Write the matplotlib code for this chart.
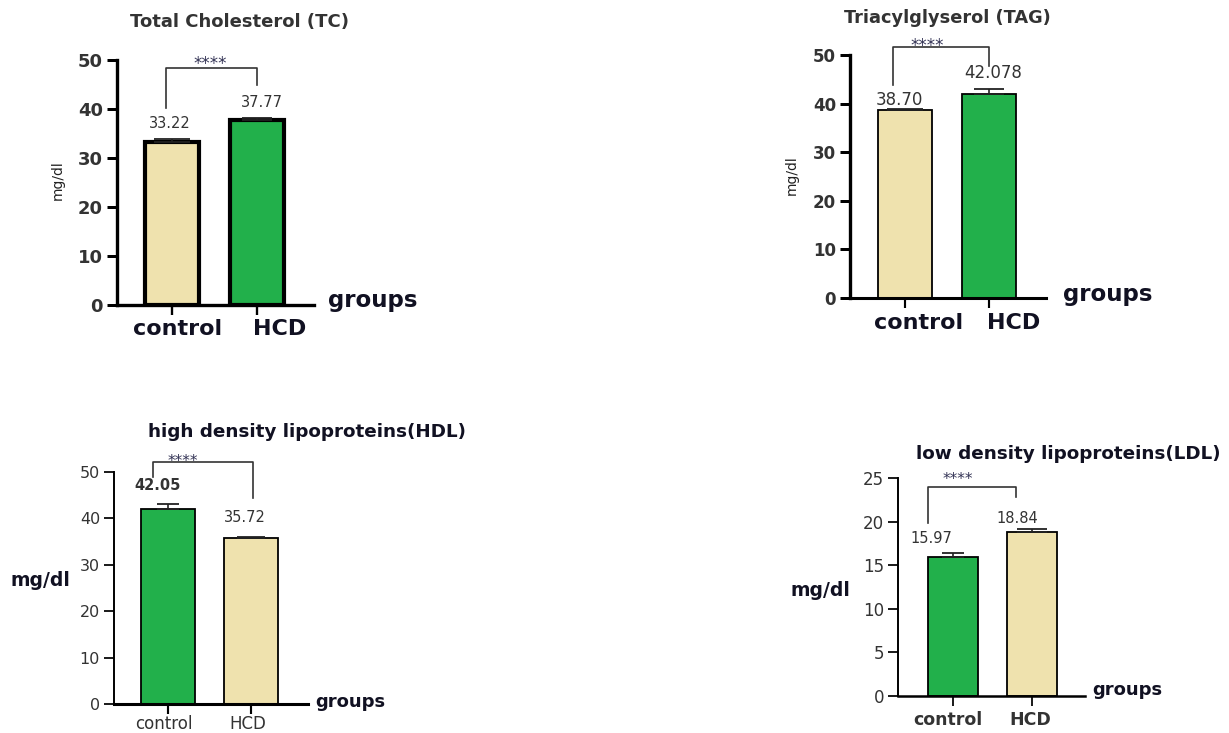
import matplotlib
matplotlib.use("Agg")
import matplotlib.pyplot as plt
import matplotlib.transforms as mtransforms

# ---- data ----
groups = ["control", "HCD"]

tc_values = [33.22, 37.77]
tc_err = [0.7, 0.45]
tc_labels = ["33.22", "37.77"]

tag_values = [38.70, 42.078]
tag_err = [0.2, 1.0]
tag_labels = ["38.70", "42.078"]

hdl_values = [42.05, 35.72]
hdl_err = [1.0, 0.3]
hdl_labels = ["42.05", "35.72"]

ldl_values = [15.97, 18.84]
ldl_err = [0.45, 0.3]
ldl_labels = ["15.97", "18.84"]

beige = "#EFE2AE"
green = "#22B04B"

W, H = 1229, 733
fig = plt.figure(figsize=(W / 100, H / 100), dpi=100)


def fx(x):
    return x / W


def fy(y):
    return 1 - y / H


def panel(box, ticks_px, ymax, yticks, values, err, labels, colors,
          edge_lw, spine_lw, tick_font, xlab_font, xlab_off, xpad, lab_pos, lab_font,
          bracket, stars, caps, tick_color="#333333", xlab_color="#111122"):
    l, t, r, b = box
    ax = fig.add_axes([fx(l), fy(b), fx(r - l), (b - t) / H])
    unit = ticks_px[1] - ticks_px[0]
    ax.set_xlim(-(ticks_px[0] - l) / unit, 1 + (r - ticks_px[1]) / unit)
    ax.set_ylim(0, ymax)
    ax.bar([0, 1], values, width=0.64, color=colors, edgecolor="black",
           linewidth=edge_lw, zorder=2)
    # only the upper half of the error bar (GraphPad style)
    for i in range(2):
        ax.errorbar([i], [values[i]], yerr=[[0], [err[i]]], fmt="none", ecolor="#222222",
                    elinewidth=1.2, capsize=caps[i], capthick=1.3, zorder=3)
    for sp in ["top", "right"]:
        ax.spines[sp].set_visible(False)
    ax.spines["left"].set_linewidth(spine_lw[0])
    ax.spines["bottom"].set_linewidth(spine_lw[1])
    ax.set_yticks(yticks)
    ax.tick_params(axis="y", length=7, width=spine_lw[0] * 0.9, pad=3)
    ax.tick_params(axis="x", length=7, width=spine_lw[1] * 0.7, pad=xpad)
    ax.set_yticklabels([str(v) for v in yticks], color=tick_color, **tick_font)
    ax.set_xticks([0, 1])
    ax.set_xticklabels(groups, color=xlab_color, **xlab_font)
    for lbl, off in zip(ax.get_xticklabels(), xlab_off):
        lbl.set_transform(lbl.get_transform() +
                          mtransforms.ScaledTranslation(off / 100, 0, fig.dpi_scale_trans))
    # value labels above bars
    for (x, y), s, f in zip(lab_pos, labels, lab_font):
        ax.text(x, y, s, ha="center", va="center", color="#333333", **f)
    # significance bracket
    xl, xr, yl, ytop, yr = bracket
    ax.plot([xl, xl, xr, xr], [yl, ytop, ytop, yr], color="#333333", lw=1.2,
            clip_on=False, zorder=4)
    star_tr = ax.transData + mtransforms.ScaledTranslation(0, -2 / 100, fig.dpi_scale_trans)
    ax.text(stars[0], stars[1], "****", ha="center", va="center", fontsize=stars[2],
            color="#333355", transform=star_tr, clip_on=False)
    return ax


# Total Cholesterol (TC)
panel((117, 60, 314, 305), (172, 257), 50, [0, 10, 20, 30, 40, 50],
      tc_values, tc_err, tc_labels, [beige, green],
      edge_lw=3.0, spine_lw=(2.4, 2.4),
      tick_font=dict(fontsize=13, fontweight="bold"),
      xlab_font=dict(fontsize=16, fontweight="bold"), xlab_off=(6, 23), xpad=3,
      lab_pos=[(-0.02, 37.1), (1.06, 41.4)],
      lab_font=[dict(fontsize=10.5), dict(fontsize=10.5)],
      bracket=(-0.07, 1.0, 40.2, 48.4, 44.9), stars=(0.45, 49.6, 12), caps=(13, 11))
fig.text(fx(240), fy(22), "Total Cholesterol (TC)", ha="center", va="center",
         fontsize=13, fontweight="bold", color="#333333")
fig.text(fx(58), fy(180), "mg/dl", ha="center", va="center", rotation=90,
         fontsize=10, color="#222222")
fig.text(fx(328), fy(301), "groups", ha="left", va="center", fontsize=16.5,
         fontweight="bold", color="#111122")

# Triacylglyserol (TAG)
panel((850, 55, 1046, 298), (905, 989), 50, [0, 10, 20, 30, 40, 50],
      tag_values, tag_err, tag_labels, [beige, green],
      edge_lw=1.3, spine_lw=(2.4, 2.2),
      tick_font=dict(fontsize=12, fontweight="bold"),
      xlab_font=dict(fontsize=16, fontweight="bold"), xlab_off=(14, 25), xpad=4,
      lab_pos=[(-0.07, 40.7), (1.05, 46.3)],
      lab_font=[dict(fontsize=12), dict(fontsize=12)],
      bracket=(-0.14, 1.0, 43.8, 51.6, 47.7), stars=(0.26, 52.3, 12), caps=(13, 11))
fig.text(fx(947), fy(18), "Triacylglyserol (TAG)", ha="center", va="center",
         fontsize=12.8, fontweight="bold", color="#333333")
fig.text(fx(792), fy(175), "mg/dl", ha="center", va="center", rotation=90,
         fontsize=10, color="#222222")
fig.text(fx(1063), fy(294), "groups", ha="left", va="center", fontsize=16.5,
         fontweight="bold", color="#111122")

# high density lipoproteins (HDL)
panel((114, 472, 308, 704), (168, 251), 50, [0, 10, 20, 30, 40, 50],
      hdl_values, hdl_err, hdl_labels, [green, beige],
      edge_lw=1.3, spine_lw=(1.4, 2.2),
      tick_font=dict(fontsize=11.5),
      xlab_font=dict(fontsize=12), xlab_off=(-4, -3), xpad=1,
      lab_pos=[(-0.13, 47.0), (0.93, 40.3)],
      lab_font=[dict(fontsize=10.5, fontweight="bold"), dict(fontsize=10.5)],
      bracket=(-0.18, 1.02, 48.9, 52.2, 44.4), stars=(0.18, 52.7, 11), caps=(8, 10),
      xlab_color="#333333")
fig.text(fx(307), fy(432), "high density lipoproteins(HDL)", ha="center", va="center",
         fontsize=13.2, fontweight="bold", color="#111122")
fig.text(fx(40), fy(580), "mg/dl", ha="center", va="center",
         fontsize=13.5, fontweight="bold", color="#111122")
fig.text(fx(315), fy(702), "groups", ha="left", va="center", fontsize=13,
         fontweight="bold", color="#111122")

# low density lipoproteins (LDL)
panel((898, 478, 1085, 696), (953, 1032), 25, [0, 5, 10, 15, 20, 25],
      ldl_values, ldl_err, ldl_labels, [green, beige],
      edge_lw=1.3, spine_lw=(1.4, 1.8),
      tick_font=dict(fontsize=12),
      xlab_font=dict(fontsize=12.5, fontweight="bold"), xlab_off=(-5, -2), xpad=4,
      lab_pos=[(-0.28, 18.1), (0.81, 20.4)],
      lab_font=[dict(fontsize=10.5), dict(fontsize=10.5)],
      bracket=(-0.32, 0.8, 19.8, 24.0, 22.8), stars=(0.06, 25.0, 11), caps=(8, 11),
      xlab_color="#333333")
fig.text(fx(1068), fy(454), "low density lipoproteins(LDL)", ha="center", va="center",
         fontsize=13.2, fontweight="bold", color="#111122")
fig.text(fx(820), fy(590), "mg/dl", ha="center", va="center",
         fontsize=13.5, fontweight="bold", color="#111122")
fig.text(fx(1092), fy(690), "groups", ha="left", va="center", fontsize=13,
         fontweight="bold", color="#111122")

fig.savefig("out.png", dpi=100)
